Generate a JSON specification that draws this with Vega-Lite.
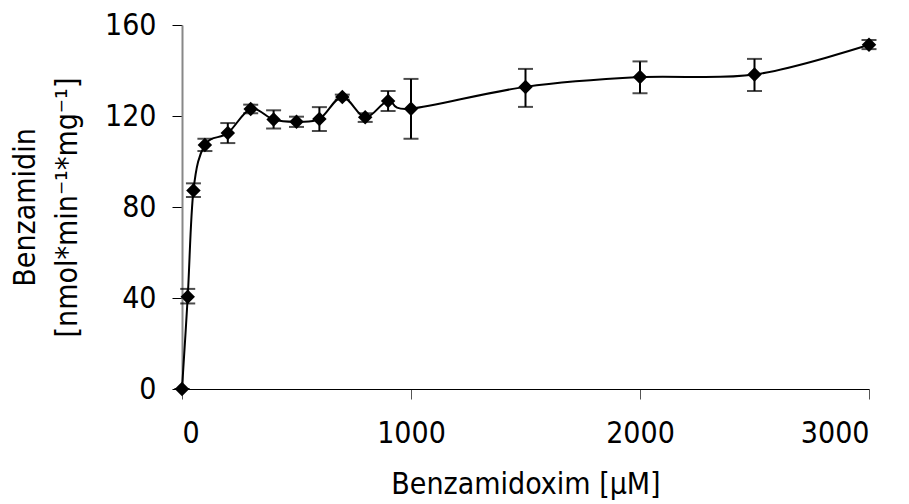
{
  "$schema": "https://vega.github.io/schema/vega-lite/v6.json",
  "width": 687,
  "height": 364,
  "autosize": "none",
  "padding": {"left": 182, "top": 25, "right": 40, "bottom": 115},
  "background": "white",
  "config": {
    "view": {"stroke": null},
    "font": "DejaVu Sans Condensed, DejaVu Sans, sans-serif",
    "axis": {
      "grid": false,
      "labelFont": "DejaVu Sans Condensed, DejaVu Sans, sans-serif",
      "titleFont": "DejaVu Sans Condensed, DejaVu Sans, sans-serif",
      "labelColor": "black",
      "titleColor": "black",
      "tickColor": "black",
      "titleFontWeight": "normal",
      "labelFontSize": 30,
      "titleFontSize": 30,
      "tickSize": 10
    }
  },
  "data": {
    "values": [
      {"x": 0, "y": 0, "lo": 0, "hi": 0},
      {"x": 25, "y": 40.5, "lo": 37.6, "hi": 44.0},
      {"x": 50, "y": 87.2, "lo": 84.4, "hi": 90.4},
      {"x": 100, "y": 107.3, "lo": 104.6, "hi": 110.0},
      {"x": 200, "y": 112.5, "lo": 108.1, "hi": 116.9},
      {"x": 300, "y": 123.1, "lo": 121.2, "hi": 125.0},
      {"x": 400, "y": 118.5, "lo": 114.5, "hi": 122.5},
      {"x": 500, "y": 117.5, "lo": 115.2, "hi": 119.7},
      {"x": 600, "y": 118.7, "lo": 113.4, "hi": 123.9},
      {"x": 700, "y": 128.4, "lo": 127.2, "hi": 129.4},
      {"x": 800, "y": 119.4, "lo": 117.4, "hi": 121.2},
      {"x": 900, "y": 126.6, "lo": 122.2, "hi": 131.0},
      {"x": 1000, "y": 123.2, "lo": 110.0, "hi": 136.3},
      {"x": 1500, "y": 132.8, "lo": 124.0, "hi": 140.7},
      {"x": 2000, "y": 137.1, "lo": 130.0, "hi": 144.0},
      {"x": 2500, "y": 138.2, "lo": 131.0, "hi": 145.1},
      {"x": 3000, "y": 151.3, "lo": 149.4, "hi": 153.4}
    ]
  },
  "layer": [
    {
      "mark": {"type": "line", "interpolate": "cardinal", "color": "black", "strokeWidth": 2},
      "encoding": {
        "x": {
          "field": "x", "type": "quantitative",
          "scale": {"domain": [0, 3000], "nice": false},
          "axis": {
            "values": [0, 1000, 2000, 3000],
            "format": "d",
            "title": "Benzamidoxim [µM]",
            "domainColor": "black",
            "domainWidth": 1,
            "labelPadding": 19,
            "titlePadding": 21,
            "tickColor": "#555"
          }
        },
        "y": {
          "field": "y", "type": "quantitative",
          "scale": {"domain": [0, 160], "nice": false},
          "axis": {
            "values": [0, 40, 80, 120, 160],
            "title": ["Benzamidin", "[nmol*min⁻¹*mg⁻¹]"],
            "titleLineHeight": 42,
            "domainColor": "#888888",
            "domainWidth": 2,
            "labelPadding": 16,
            "titlePadding": 22
          }
        }
      }
    },
    {
      "mark": {"type": "rule", "color": "black", "strokeWidth": 2},
      "encoding": {
        "x": {"field": "x", "type": "quantitative"},
        "y": {"field": "lo", "type": "quantitative"},
        "y2": {"field": "hi"}
      }
    },
    {
      "mark": {"type": "tick", "orient": "horizontal", "color": "black", "size": 15, "thickness": 2},
      "encoding": {
        "x": {"field": "x", "type": "quantitative"},
        "y": {"field": "lo", "type": "quantitative"}
      }
    },
    {
      "mark": {"type": "tick", "orient": "horizontal", "color": "black", "size": 15, "thickness": 2},
      "encoding": {
        "x": {"field": "x", "type": "quantitative"},
        "y": {"field": "hi", "type": "quantitative"}
      }
    },
    {
      "mark": {"type": "point", "shape": "diamond", "filled": true, "color": "black", "opacity": 1, "size": 210},
      "encoding": {
        "x": {"field": "x", "type": "quantitative"},
        "y": {"field": "y", "type": "quantitative"}
      }
    }
  ]
}
